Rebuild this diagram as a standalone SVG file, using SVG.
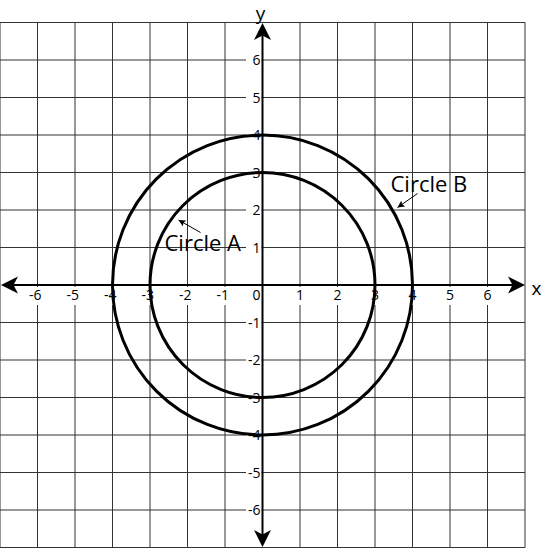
<svg xmlns="http://www.w3.org/2000/svg" width="544" height="548" viewBox="0 0 544 548">
<defs>
<style>
.grid{stroke:#333;stroke-width:1;fill:none}
.axis{stroke:#000;stroke-width:2;fill:none}
.circ{stroke:#000;stroke-width:3;fill:none}
.tick{font-family:"Open Sans","Noto Sans",sans-serif;font-size:14px;fill:#000}
.lab{font-family:"Open Sans","Noto Sans",sans-serif;font-size:22px;fill:#000}
.axlab{font-family:"Open Sans","Noto Sans",sans-serif;font-size:19px;fill:#000}
.ptr{stroke:#000;stroke-width:1;fill:none}
</style>
<marker id="sm" viewBox="0 0 10 10" refX="10" refY="5" markerWidth="7" markerHeight="7" orient="auto" markerUnits="userSpaceOnUse">
<path d="M0,0 L10,5 L0,10 L2,5 Z" fill="#000"/>
</marker>
</defs>
<rect width="544" height="548" fill="#fff"/>
<g id="grid" class="grid">
<path d="M0,22.5V547.5M37.5,22.5V547.5M75,22.5V547.5M112.5,22.5V547.5M150,22.5V547.5M187.5,22.5V547.5M225,22.5V547.5M300,22.5V547.5M337.5,22.5V547.5M375,22.5V547.5M412.5,22.5V547.5M450,22.5V547.5M487.5,22.5V547.5M525,22.5V547.5"/>
<path d="M0,22.5H525M0,60H525M0,97.5H525M0,135H525M0,172.5H525M0,210H525M0,247.5H525M0,322.5H525M0,360H525M0,397.5H525M0,435H525M0,472.5H525M0,510H525M0,547.5H525"/>
</g>
<g id="label-gaps" fill="#fff">
<rect x="32" y="287" width="11" height="18"/>
<rect x="69.5" y="287" width="11" height="18"/>
<rect x="107" y="287" width="11" height="18"/>
<rect x="144.5" y="287" width="11" height="18"/>
<rect x="182" y="287" width="11" height="18"/>
<rect x="219.5" y="287" width="11" height="18"/>
<rect x="294.5" y="287" width="11" height="18"/>
<rect x="332" y="287" width="11" height="18"/>
<rect x="369.5" y="287" width="11" height="18"/>
<rect x="407" y="287" width="11" height="18"/>
<rect x="444.5" y="287" width="11" height="18"/>
<rect x="482" y="287" width="11" height="18"/>
<rect x="246" y="54" width="15.5" height="12"/>
<rect x="246" y="91.5" width="15.5" height="12"/>
<rect x="246" y="129" width="15.5" height="12"/>
<rect x="246" y="166.5" width="15.5" height="12"/>
<rect x="246" y="204" width="15.5" height="12"/>
<rect x="246" y="241.5" width="15.5" height="12"/>
<rect x="246" y="316.5" width="15.5" height="12"/>
<rect x="246" y="354" width="15.5" height="12"/>
<rect x="246" y="391.5" width="15.5" height="12"/>
<rect x="246" y="429" width="15.5" height="12"/>
<rect x="246" y="466.5" width="15.5" height="12"/>
<rect x="246" y="504" width="15.5" height="12"/>
</g>
<g id="ticks-x" class="tick" text-anchor="end">
<text x="41.5" y="300">-6</text>
<text x="79" y="300">-5</text>
<text x="116.5" y="300">-4</text>
<text x="154" y="300">-3</text>
<text x="191.5" y="300">-2</text>
<text x="229" y="300">-1</text>
<text x="260.5" y="300">0</text>
<text x="304" y="300">1</text>
<text x="341.5" y="300">2</text>
<text x="379" y="300">3</text>
<text x="416.5" y="300">4</text>
<text x="454" y="300">5</text>
<text x="491.5" y="300">6</text>
</g>
<g id="ticks-y" class="tick" text-anchor="end">
<text x="260.5" y="65">6</text>
<text x="260.5" y="102.5">5</text>
<text x="260.5" y="140">4</text>
<text x="260.5" y="177.5">3</text>
<text x="260.5" y="215">2</text>
<text x="260.5" y="252.5">1</text>
<text x="260.5" y="327.5">-1</text>
<text x="260.5" y="365">-2</text>
<text x="260.5" y="402.5">-3</text>
<text x="260.5" y="440">-4</text>
<text x="260.5" y="477.5">-5</text>
<text x="260.5" y="515">-6</text>
</g>
<g id="axes">
<path class="axis" d="M262.5,34V536M12,285H514"/>
<path d="M262.5,23L271,40L262.5,35.5L254,40Z" fill="#000"/>
<path d="M262.5,547L271,530L262.5,534.5L254,530Z" fill="#000"/>
<path d="M525,285L508,276.5L512.5,285L508,293.5Z" fill="#000"/>
<path d="M1,285L18,276.5L13.5,285L18,293.5Z" fill="#000"/>
<text class="axlab" x="260.5" y="20" text-anchor="middle">y</text>
<text class="axlab" x="536.5" y="295" text-anchor="middle">x</text>
</g>
<g id="circle-B">
<circle class="circ" cx="262.5" cy="285" r="150"/>
<text class="lab" x="390.5" y="191.5">Circle B</text>
</g>
<g id="circle-A">
<circle class="circ" cx="262.5" cy="285" r="112.5"/>
<text class="lab" x="164.5" y="250.5">Circle A</text>
</g>
<g id="connectors">
<line class="ptr" x1="200.5" y1="232.5" x2="178.5" y2="220" marker-end="url(#sm)"/>
<line class="ptr" x1="417.5" y1="193.5" x2="397.5" y2="207.5" marker-end="url(#sm)"/>
</g>
</svg>
